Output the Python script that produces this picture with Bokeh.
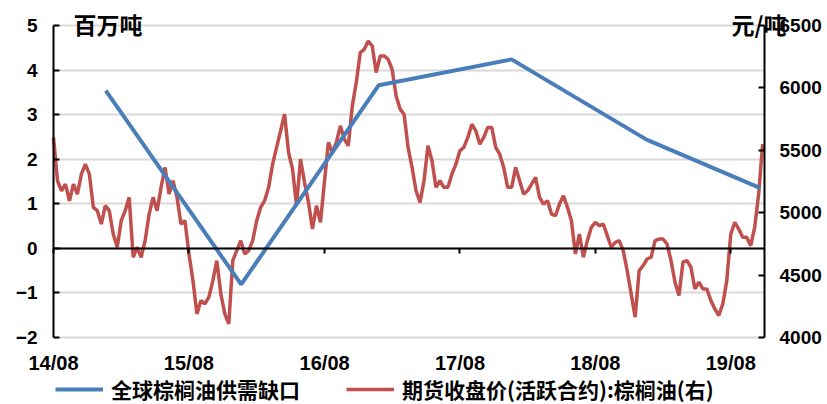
import pandas as pd
from bokeh.plotting import figure
from bokeh.models import (Range1d, LinearAxis, FixedTicker, Legend, LegendItem,
                          DatetimeTickFormatter, Label)
from bokeh.embed import file_html
from bokeh.resources import INLINE

# ---- data -------------------------------------------------------------
x_tick_labels = ["14/08", "15/08", "16/08", "17/08", "18/08", "19/08"]
left_ticks = [-2, -1, 0, 1, 2, 3, 4, 5]
right_ticks = [4000, 4500, 5000, 5500, 6000, 6500]

gap_dates = ["2014-12-20", "2015-12-20", "2016-12-25", "2017-12-18", "2018-12-17", "2019-10-20"]
gap_values = [3.54, -0.81, 3.66, 4.24, 2.44, 1.35]

price_start = "2014-08-01"
price_end = "2019-10-26"
price_values = [
    5603, 5256, 5176, 5229, 5096, 5229, 5149, 5309, 5389, 5309, 5043, 5016, 4909, 5056, 5016,
    4829, 4723, 4936, 5016, 5123, 4643, 4723, 4643, 4776, 4989, 5123, 5016, 5203, 5363, 5149,
    5256, 5123, 4909, 4936, 4669, 4456, 4189, 4296, 4269, 4323, 4456, 4616, 4349, 4189, 4109,
    4616, 4696, 4776, 4669, 4696, 4776, 4936, 5043, 5096, 5203, 5389, 5523, 5656, 5789,
    5483, 5349, 5056, 5429, 5243, 5083, 4869, 5056, 4923, 5243, 5563, 5483, 5563, 5696, 5589,
    5536, 5856, 6043, 6283, 6309, 6376, 6336, 6123, 6256, 6256, 6229, 6149, 5936, 5830,
    5789, 5523, 5363, 5176, 5083, 5256, 5536, 5416, 5203, 5256, 5203, 5203, 5309, 5389, 5496,
    5523, 5603, 5709, 5656, 5549, 5603, 5683, 5683, 5523, 5469, 5363, 5203, 5203, 5363,
    5256, 5149, 5176, 5229, 5283, 5123, 5069, 5096, 4989, 4976, 5069, 5136, 5043, 4936, 4669,
    4829, 4643, 4776, 4883, 4923, 4896, 4909, 4816, 4723, 4763, 4776, 4696, 4536, 4349, 4163, 4536,
    4576, 4629, 4643, 4776, 4789, 4789, 4749, 4616, 4443, 4336, 4603, 4616, 4563, 4389, 4443,
    4389, 4389, 4296, 4229, 4176, 4269, 4456, 4829, 4923, 4869, 4803, 4803, 4736, 4883, 5149, 5550,
]

gap_label = "全球棕榈油供需缺口"
price_label = "期货收盘价(活跃合约):棕榈油(右)"
left_unit = "百万吨"
right_unit = "元/吨"

# ---- layout geometry (pixels) ----------------------------------------
W, H = 827, 404
FL, FR, FT, FB = 53, 764, 25, 337      # plot area inside the canvas

axis_start = pd.Timestamp("2014-08-01")
axis_end = pd.Timestamp("2019-10-31")
per_px = (axis_end - axis_start) / (FR - FL)
x_start = axis_start - per_px * FL
x_end = axis_end + per_px * (W - FR)

ly0, ly1 = left_ticks[0], left_ticks[-1]
ry0, ry1 = right_ticks[0], right_ticks[-1]
lpp = (ly1 - ly0) / (FB - FT)
rpp = (ry1 - ry0) / (FB - FT)
zero_px = (FB - FT) * (0 - ly0) / (ly1 - ly0)   # height of zero line above plot bottom

def ms(t):
    return pd.Timestamp(t).timestamp() * 1000

tick_dates = [pd.Timestamp("20" + s.replace("/", "-") + "-01") for s in x_tick_labels]
tick_ms = [ms(t) for t in tick_dates]
price_dates = pd.date_range(price_start, price_end, periods=len(price_values))
gap_dt = pd.to_datetime(gap_dates)

BLUE = "#4A7EBB"
RED = "#C0504D"
NUM_FONT = "Liberation Sans"
CJK_FONT = "Noto Sans CJK SC"

p = figure(width=W, height=H, x_axis_type="datetime", output_backend="svg",
           toolbar_location=None,
           x_range=Range1d(x_start, x_end),
           y_range=Range1d(ly0 - lpp * (H - FB), ly1 + lpp * FT),
           min_border=0)
p.outline_line_color = None
p.background_fill_color = "white"
p.border_fill_color = "white"
p.extra_y_ranges = {"right": Range1d(ry0 - rpp * (H - FB), ry1 + rpp * FT)}

# grid
p.xgrid.grid_line_color = None
p.ygrid.ticker = FixedTicker(ticks=left_ticks)
p.ygrid.grid_line_color = "#D9D9D9"
p.ygrid.grid_line_width = 2
p.ygrid.cross_bounds = (ms(axis_start), ms(axis_end))

def style_num(ax, size):
    ax.major_label_text_font = NUM_FONT
    ax.major_label_text_font_size = size
    ax.major_label_text_font_style = "bold"
    ax.major_label_text_color = "black"

# left axis
ya = p.yaxis[0]
ya.fixed_location = ms(axis_start)
ya.bounds = (ly0, ly1)
ya.ticker = FixedTicker(ticks=left_ticks)
ya.major_label_overrides = {v: str(v).replace("-", "\u2212") for v in left_ticks}
ya.axis_line_color = "black"
ya.axis_line_width = 2
ya.major_tick_in = 6
ya.major_tick_out = 0
ya.major_tick_line_width = 2
ya.minor_tick_line_color = None
ya.major_label_standoff = 16
style_num(ya, "19px")

# right axis
ra = LinearAxis(y_range_name="right", ticker=FixedTicker(ticks=right_ticks))
ra.fixed_location = ms(axis_end)
ra.bounds = (ry0, ry1)
ra.axis_line_color = "black"
ra.axis_line_width = 2
ra.major_tick_in = 6
ra.major_tick_out = 0
ra.major_tick_line_width = 2
ra.minor_tick_line_color = None
ra.major_label_standoff = 15
style_num(ra, "19px")
p.add_layout(ra, "right")

# x axis drawn on the zero line, labels below the plot area
xa = p.xaxis[0]
xa.fixed_location = 0
xa.bounds = (ms(axis_start), ms(axis_end))
xa.ticker = FixedTicker(ticks=tick_ms)
fmt = "%y/%m"
xa.formatter = DatetimeTickFormatter(years=fmt, months=fmt, days=fmt, hours=fmt, hourmin=fmt,
                                     minutes=fmt, minsec=fmt, seconds=fmt,
                                     milliseconds=fmt, microseconds=fmt)
xa.axis_line_color = "black"
xa.axis_line_width = 2
xa.major_tick_in = 0
xa.major_tick_out = 5
xa.major_tick_line_width = 2
xa.minor_tick_line_color = None
xa.major_label_standoff = int(round(zero_px)) + 10
style_num(xa, "20px")

# series
red = p.line(price_dates, price_values, y_range_name="right", line_color=RED, line_width=3.5)
blue = p.line(gap_dt, gap_values, line_color=BLUE, line_width=4)

# unit labels
p.add_layout(Label(x=73, y=H - 23, x_units="screen", y_units="screen", text=left_unit,
                   text_baseline="middle", text_font=CJK_FONT, text_font_size="23px",
                   text_font_style="bold", text_color="black"))
p.add_layout(Label(x=731, y=H - 23, x_units="screen", y_units="screen", text=right_unit,
                   text_baseline="middle", text_font=CJK_FONT, text_font_size="23px",
                   text_font_style="bold", text_color="black"))

legend = Legend(items=[LegendItem(label=gap_label, renderers=[blue]),
                       LegendItem(label=price_label, renderers=[red])],
                orientation="horizontal", location=(55, 0))
legend.border_line_color = None
legend.background_fill_alpha = 0
legend.padding = 0
legend.margin = 0
legend.spacing = 46
legend.glyph_width = 48
legend.label_standoff = 8
legend.label_text_font = CJK_FONT
legend.label_text_font_size = "21px"
legend.label_text_font_style = "bold"
legend.label_text_color = "black"
p.add_layout(legend)

open("out.html", "w").write(file_html(p, INLINE))
